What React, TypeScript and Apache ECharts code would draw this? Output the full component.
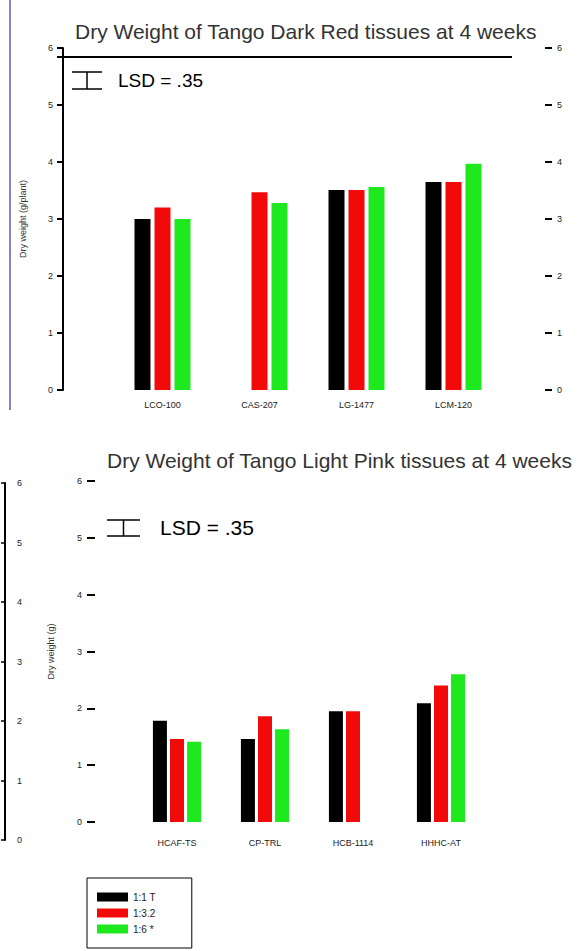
import React, { useEffect, useRef } from "react";
import * as echarts from "echarts";

const topTitle = "Dry Weight of Tango Dark Red tissues at 4 weeks";
const bottomTitle = "Dry Weight of Tango Light Pink tissues at 4 weeks";
const lsdText = "LSD = .35";

const topCategories = ["LCO-100", "CAS-207", "LG-1477", "LCM-120"];
const bottomCategories = ["HCAF-TS", "CP-TRL", "HCB-1114", "HHHC-AT"];
const seriesNames = ["1:1 T", "1:3.2", "1:6 *"];
const seriesColors = ["#000000", "#f20a0a", "#1ee81e"];

const topBlack = [3.0, null, 3.51, 3.65];
const topRed = [3.2, 3.47, 3.51, 3.65];
const topGreen = [3.0, 3.28, 3.56, 3.97];

const bottomBlack = [1.78, 1.46, 1.95, 2.09];
const bottomRed = [1.46, 1.86, 1.95, 2.4];
const bottomGreen = [1.41, 1.63, null, 2.6];

const yTicks = [0, 1, 2, 3, 4, 5, 6];

const FONT = "Liberation Sans";

export default function App() {
  const ref = useRef<HTMLDivElement>(null);
  useEffect(() => {
    if (!ref.current) return;
    const chart = echarts.init(ref.current, null, { renderer: "svg" });
    const yMax = yTicks[yTicks.length - 1];
    const lbl = { fontFamily: FONT, color: "#222", fontSize: 10 };

    const mkSeries = (data: (number | null)[], i: number, axisIdx: number, width: number, gap: string) => ({
      type: "bar",
      name: seriesNames[i],
      xAxisIndex: axisIdx,
      yAxisIndex: axisIdx === 0 ? 0 : 2,
      data,
      barWidth: width,
      barGap: gap,
      itemStyle: { color: seriesColors[i] },
      silent: true,
    });

    const ibeam = (x: number, y: number, w: number, h: number) => ({
      type: "group",
      children: [
        { type: "line", shape: { x1: x, y1: y, x2: x + w, y2: y }, style: { stroke: "#000", lineWidth: 1.5 } },
        { type: "line", shape: { x1: x + w / 2, y1: y, x2: x + w / 2, y2: y + h }, style: { stroke: "#000", lineWidth: 1.5 } },
        { type: "line", shape: { x1: x, y1: y + h, x2: x + w, y2: y + h }, style: { stroke: "#000", lineWidth: 1.5 } },
      ],
    });

    chart.setOption({
      animation: false,
      backgroundColor: "#ffffff",
      title: [
        { text: topTitle, left: 70, top: 16, textStyle: { fontFamily: FONT, fontSize: 21, fontWeight: "normal", color: "#333" } },
        { text: bottomTitle, left: 102, top: 445, textStyle: { fontFamily: FONT, fontSize: 21, fontWeight: "normal", color: "#333" } },
      ],
      legend: {
        data: seriesNames,
        orient: "vertical",
        left: 87,
        top: 878,
        width: 103,
        itemWidth: 31,
        itemHeight: 9,
        itemGap: 6,
        padding: [14, 36, 14, 10],
        borderColor: "#000",
        borderWidth: 1,
        icon: "rect",
        textStyle: { fontFamily: FONT, fontSize: 10, color: "#222" },
      },
      grid: [
        { left: 114, right: 75, top: 48, height: 342 },
        { left: 133, right: 92, top: 481, height: 341 },
        { left: 5, width: 1, top: 483, height: 357 },
      ],
      xAxis: [
        {
          type: "category",
          gridIndex: 0,
          data: topCategories,
          axisLine: { show: false },
          axisTick: { show: false },
          axisLabel: { ...lbl, fontSize: 9, margin: 10 },
        },
        {
          type: "category",
          gridIndex: 1,
          data: bottomCategories,
          axisLine: { show: false },
          axisTick: { show: false },
          axisLabel: { ...lbl, fontSize: 9, margin: 16 },
        },
        { type: "value", gridIndex: 2, show: false, min: 0, max: 1 },
      ],
      yAxis: [
        {
          type: "value",
          gridIndex: 0,
          min: 0,
          max: yMax,
          interval: 1,
          offset: 51,
          name: "Dry weight (g/plant)",
          nameLocation: "middle",
          nameGap: 36,
          nameTextStyle: { fontFamily: FONT, fontSize: 9, color: "#333" },
          axisLine: { show: true, lineStyle: { color: "#000", width: 2 } },
          axisTick: { show: true, length: 6, lineStyle: { color: "#000", width: 2 } },
          axisLabel: { ...lbl, fontSize: 9, margin: 10 },
          splitLine: { show: false },
        },
        {
          type: "value",
          gridIndex: 0,
          position: "right",
          min: 0,
          max: yMax,
          interval: 1,
          offset: 43,
          axisLine: { show: false },
          axisTick: { show: true, length: 7, lineStyle: { color: "#000", width: 2 } },
          axisLabel: { ...lbl, fontSize: 9, margin: 12 },
          splitLine: { show: false },
        },
        {
          type: "value",
          gridIndex: 1,
          min: 0,
          max: yMax,
          interval: 1,
          offset: 38,
          name: "Dry weight (g)",
          nameLocation: "middle",
          nameGap: 40,
          nameTextStyle: { fontFamily: FONT, fontSize: 9, color: "#333" },
          axisLine: { show: false },
          axisTick: { show: true, length: 8, lineStyle: { color: "#000", width: 2 } },
          axisLabel: { ...lbl, fontSize: 9, margin: 13 },
          splitLine: { show: false },
        },
        {
          type: "value",
          gridIndex: 2,
          min: 0,
          max: yMax,
          interval: 1,
          axisLine: { show: true, lineStyle: { color: "#000", width: 2 } },
          axisTick: { show: true, length: 4, lineStyle: { color: "#000", width: 1.5 } },
          axisLabel: { ...lbl, fontSize: 9, inside: true, margin: 12 },
          splitLine: { show: false },
        },
      ],
      series: [
        mkSeries(topBlack, 0, 0, 16, "25%"),
        mkSeries(topRed, 1, 0, 16, "25%"),
        mkSeries(topGreen, 2, 0, 16, "25%"),
        mkSeries(bottomBlack, 0, 1, 14, "22%"),
        mkSeries(bottomRed, 1, 1, 14, "22%"),
        mkSeries(bottomGreen, 2, 1, 14, "22%"),
      ],
      graphic: [
        { type: "line", shape: { x1: 10, y1: 0, x2: 10, y2: 410 }, style: { stroke: "#8f7fbf", lineWidth: 2 } },
        { type: "line", shape: { x1: 57, y1: 57, x2: 512, y2: 57 }, style: { stroke: "#000", lineWidth: 2 } },
        ibeam(72, 72, 30, 17),
        { type: "text", x: 118, y: 71, style: { text: lsdText, fontFamily: FONT, fontSize: 19, fill: "#000" } },
        ibeam(107, 520, 33, 16),
        { type: "text", x: 160, y: 517, style: { text: lsdText, fontFamily: FONT, fontSize: 21, fill: "#000" } },
      ],
    });
    return () => chart.dispose();
  }, []);
  return <div ref={ref} style={{ position: "fixed", left: 0, top: 0, width: 577, height: 951 }} />;
}
